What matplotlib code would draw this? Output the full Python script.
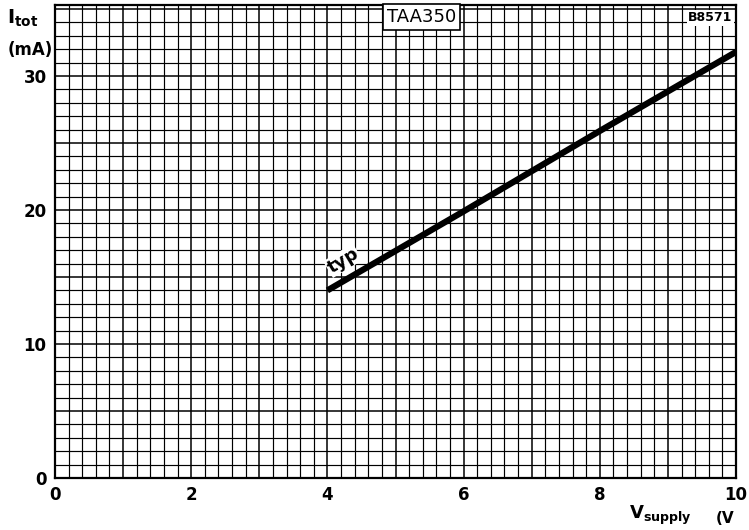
import numpy as np
import matplotlib.pyplot as plt

# Kennlinie typ
v_supply = [4, 6, 8, 10]
i_tot = [14.0, 19.9, 25.9, 31.8]

xticks = [0, 2, 4, 6, 8, 10]
yticks = [0, 10, 20, 30]

fig = plt.figure(figsize=(7.49, 5.30), dpi=100)
ax = fig.add_axes([0.0734, 0.0981, 0.9093, 0.8925])
ax.set_xlim(0, 10)
ax.set_ylim(0, 35.3)

# Raster
for x in np.arange(0.2, 10, 0.2):
    lw = 1.1 if abs(x - round(x)) < 1e-6 else 0.85
    ax.axvline(x, color='black', lw=lw, zorder=1)
for y in range(1, 36):
    lw = 1.1 if y % 5 == 0 else 0.85
    ax.axhline(y, color='black', lw=lw, zorder=1)

ax.plot(v_supply, i_tot, color='black', lw=4.5, solid_capstyle='butt', zorder=3)

for s in ax.spines.values():
    s.set_linewidth(1.6)

ax.set_xticks(xticks)
ax.set_yticks(yticks)
ax.tick_params(length=0, labelsize=12, pad=6)
for lab in ax.get_xticklabels() + ax.get_yticklabels():
    lab.set_fontweight('bold')

ax.text(3.95, 15.0, 'typ', rotation=31, fontsize=13, fontweight='bold',
        ha='left', va='bottom', zorder=4,
        bbox=dict(facecolor='white', edgecolor='none', pad=0.5))
ax.text(5.38, 34.4, 'TAA350', fontsize=13, ha='center', va='center', zorder=4,
        bbox=dict(facecolor='white', edgecolor='black', lw=1.2, pad=3))
ax.text(9.95, 34.35, 'B8571', fontsize=9, fontweight='bold', ha='right', va='center',
        zorder=4, bbox=dict(facecolor='white', edgecolor='none', pad=1))

fig.text(0.01, 0.965, r'I$_{\mathbf{tot}}$', fontsize=14, fontweight='bold', ha='left', va='center')
fig.text(0.01, 0.905, '(mA)', fontsize=12, fontweight='bold', ha='left', va='center')
fig.text(0.84, 0.028, r'V$_{\mathbf{supply}}$', fontsize=13, fontweight='bold', ha='left', va='center')
fig.text(0.955, 0.022, '(V', fontsize=11, fontweight='bold', ha='left', va='center')

fig.savefig('out.png', dpi=100)
